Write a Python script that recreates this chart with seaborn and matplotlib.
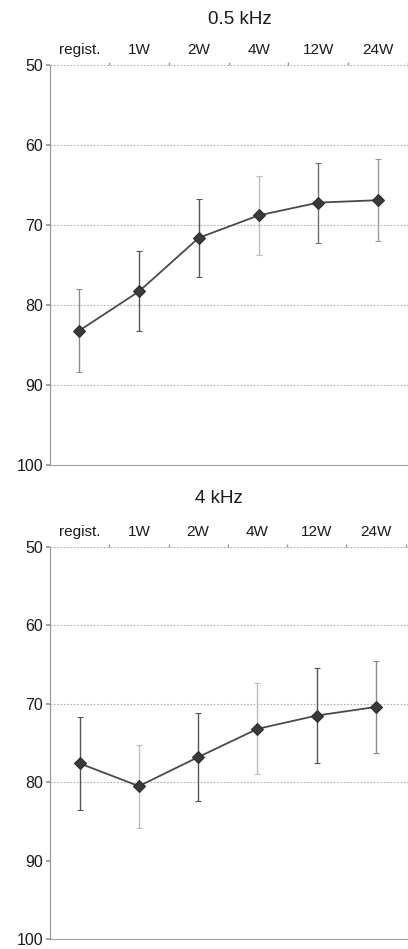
import matplotlib
matplotlib.use("Agg")
import matplotlib.pyplot as plt
import seaborn as sns
import pandas as pd
import numpy as np

sns.set_theme(style="white")
plt.rcParams['font.family'] = ['Liberation Sans', 'DejaVu Sans']

categories = ["regist.", "1W", "2W", "4W", "12W", "24W"]

# 0.5 kHz
mean_05 = [83.2, 78.3, 71.6, 68.8, 67.2, 66.9]
sd_05 = [5.2, 5.0, 4.9, 4.9, 5.0, 5.1]
ecol_05 = ["#8a8a8a", "#555555", "#555555", "#bdbdbd", "#707070", "#9a9a9a"]

# 4 kHz
mean_4 = [77.6, 80.5, 76.8, 73.2, 71.5, 70.4]
sd_4 = [5.9, 5.3, 5.6, 5.8, 6.1, 5.9]
ecol_4 = ["#555555", "#bdbdbd", "#555555", "#bdbdbd", "#555555", "#8a8a8a"]

panels = [
    ("0.5 kHz", mean_05, sd_05, ecol_05),
    ("4 kHz", mean_4, sd_4, ecol_4),
]

yticks = [50, 60, 70, 80, 90, 100]

W, H = 408, 949
fig = plt.figure(figsize=(W / 100, H / 100), dpi=100)

# axes rectangles in pixels: left, top, right, bottom
rects = [(50, 65, 408, 465), (50, 547, 408, 939)]
title_y = [20, 498]
title_x = [240, 219]
xlims = [(-0.49, 5.34), (-0.5, 5.54)]
grids = [[50, 60, 70, 80, 90], [50, 60, 70, 80]]

for (title, mean, sd, ecol), (l, t, r, b), ty, tx, xl, gl in zip(panels, rects, title_y, title_x, xlims, grids):
    ax = fig.add_axes([l / W, 1 - b / H, (r - l) / W, (b - t) / H])
    df = pd.DataFrame({"x": np.arange(len(categories)), "y": mean})
    for i in range(len(categories)):
        ax.errorbar(df["x"][i], df["y"][i], yerr=sd[i], fmt="none",
                    ecolor=ecol[i], elinewidth=1.0, capsize=2, capthick=0.8, zorder=2)
    sns.lineplot(data=df, x="x", y="y", ax=ax, color="#4a4a4a", linewidth=1.3,
                 marker="D", markersize=6, markerfacecolor="#3a3a3a",
                 markeredgecolor="#2a2a2a", zorder=3)
    ax.set_xlim(*xl)
    ax.set_ylim(100, 50)
    ax.set_xlabel("")
    ax.set_ylabel("")
    ax.xaxis.tick_top()
    ax.set_xticks(np.arange(len(categories)))
    ax.set_xticklabels(categories, fontsize=11, color="#1a1a1a")
    ax.set_xticks(np.arange(len(categories)) + 0.5, minor=True)
    ax.tick_params(axis="x", which="major", length=0, pad=6)
    ax.tick_params(axis="x", which="minor", top=True, length=2, color="#999999")
    ax.set_yticks(yticks)
    ax.set_yticklabels([str(v) for v in yticks], fontsize=11.5, color="#1a1a1a")
    ax.tick_params(axis="y", length=3, color="#999999", pad=2, left=True)
    for g in gl:
        ax.axhline(g, color="#b0b0b0", linestyle=(0, (1.5, 1.5)), linewidth=0.8, zorder=1)
    ax.spines["right"].set_visible(False)
    ax.spines["top"].set_visible(False)
    ax.spines["left"].set_color("#9a9a9a")
    ax.spines["left"].set_linewidth(0.9)
    ax.spines["bottom"].set_color("#a0a0a0")
    ax.spines["bottom"].set_linestyle((0, (1.5, 1.0)))
    ax.spines["bottom"].set_linewidth(0.8)
    fig.text(tx / W, 1 - ty / H, title, fontsize=13.5, color="#1a1a1a",
             ha="center", va="center")

fig.savefig("out.png", dpi=100)
